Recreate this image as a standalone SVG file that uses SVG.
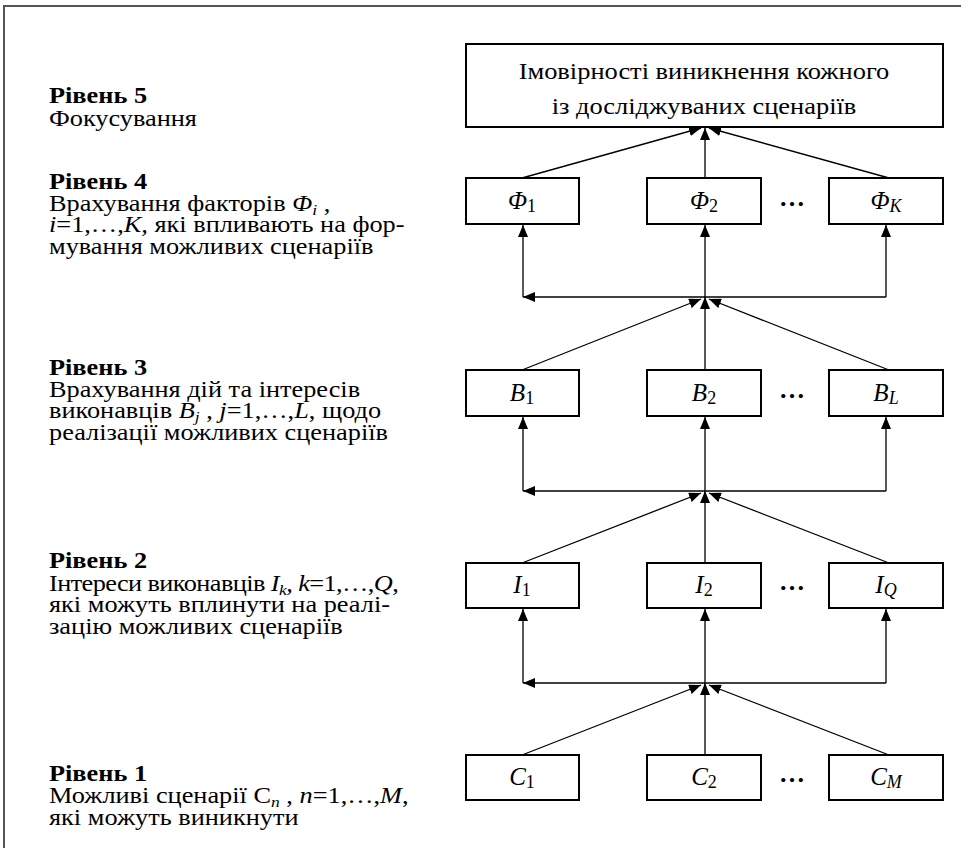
<svg xmlns="http://www.w3.org/2000/svg" width="961" height="848" viewBox="0 0 961 848">
<defs>
<style>
.frame{fill:none;stroke:#555;stroke-width:2}
.box{fill:#fff;stroke:#000;stroke-width:2}
.con{fill:none;stroke:#000;stroke-width:1.3}
.t{font-family:"Liberation Serif","Times New Roman",serif;font-size:22.5px;fill:#000}
.h{font-weight:bold}
.bt{font-family:"Liberation Serif","Times New Roman",serif;font-size:22.6px;fill:#000;text-anchor:middle}
.lbl{font-family:"Liberation Serif","Times New Roman",serif;font-size:25px;fill:#000;text-anchor:middle}
.i{font-style:italic}
.dots{font-family:"Liberation Serif","Times New Roman",serif;font-size:26px;font-weight:bold;fill:#000;text-anchor:middle}
</style>
<marker id="ah" markerWidth="12" markerHeight="10" refX="12" refY="5" orient="auto" markerUnits="userSpaceOnUse"><path d="M0,0 L12,5 L0,10 z" fill="#000"/></marker>
</defs>
<rect width="961" height="848" fill="#fff"/>
<path class="frame" d="M4,848 V6 H961"/>

<g id="levels" transform="matrix(1.17 0 0 1 -8.33 0)">
<text class="t h" x="49" y="103">Рівень 5</text>
<text class="t" x="49" y="126">Фокусування</text>
<text class="t h" x="49" y="189">Рівень 4</text>
<text class="t" x="49" y="211">Врахування факторів <tspan class="i">Φ</tspan><tspan class="i" font-size="15" dy="4">i</tspan><tspan dy="-4"> ,</tspan></text>
<text class="t" x="49" y="232"><tspan class="i">i</tspan>=1,…,<tspan class="i">K,</tspan> які впливають на фор-</text>
<text class="t" x="49" y="254">мування можливих сценаріїв</text>
<text class="t h" x="49" y="375">Рівень 3</text>
<text class="t" x="49" y="397">Врахування дій та інтересів</text>
<text class="t" x="49" y="418">виконавців <tspan class="i">B</tspan><tspan class="i" font-size="15" dy="4">j</tspan><tspan dy="-4"> , </tspan><tspan class="i">j</tspan>=1,…,<tspan class="i">L</tspan>, щодо</text>
<text class="t" x="49" y="440">реалізації можливих сценаріїв</text>
<text class="t h" x="49" y="568">Рівень 2</text>
<text class="t" x="49" y="591" letter-spacing="-0.5">Інтереси виконавців <tspan class="i">I</tspan><tspan class="i" font-size="15" dy="4">k</tspan><tspan class="i" dy="-4">, k</tspan>=1,…,<tspan class="i">Q</tspan>,</text>
<text class="t" x="49" y="612">які можуть вплинути на реалі-</text>
<text class="t" x="49" y="634">зацію можливих сценаріїв</text>
<text class="t h" x="49" y="781">Рівень 1</text>
<text class="t" x="49" y="803">Можливі сценарії C<tspan class="i" font-size="15" dy="4">n</tspan><tspan dy="-4"> , </tspan><tspan class="i">n</tspan>=1,…,<tspan class="i">M</tspan>,</text>
<text class="t" x="49" y="825">які можуть виникнути</text>
</g>

<g id="connectors">
<line class="con" x1="522" y1="178" x2="701" y2="128" marker-end="url(#ah)"/>
<line class="con" x1="705" y1="178" x2="705" y2="128" marker-end="url(#ah)"/>
<line class="con" x1="889" y1="178" x2="709" y2="128" marker-end="url(#ah)"/>

<path class="con" d="M886,297 H523" marker-end="url(#ah)"/>
<line class="con" x1="523" y1="297" x2="523" y2="225" marker-end="url(#ah)"/>
<line class="con" x1="705" y1="297" x2="705" y2="225" marker-end="url(#ah)"/>
<line class="con" x1="886" y1="297" x2="886" y2="225" marker-end="url(#ah)"/>
<line class="con" x1="522" y1="370" x2="701" y2="299" marker-end="url(#ah)"/>
<line class="con" x1="705" y1="370" x2="705" y2="297" marker-end="url(#ah)"/>
<line class="con" x1="889" y1="370" x2="709" y2="299" marker-end="url(#ah)"/>

<path class="con" d="M886,491 H523" marker-end="url(#ah)"/>
<line class="con" x1="523" y1="491" x2="523" y2="417" marker-end="url(#ah)"/>
<line class="con" x1="705" y1="491" x2="705" y2="417" marker-end="url(#ah)"/>
<line class="con" x1="886" y1="491" x2="886" y2="417" marker-end="url(#ah)"/>
<line class="con" x1="522" y1="563" x2="701" y2="493" marker-end="url(#ah)"/>
<line class="con" x1="705" y1="563" x2="705" y2="491" marker-end="url(#ah)"/>
<line class="con" x1="889" y1="563" x2="709" y2="493" marker-end="url(#ah)"/>

<path class="con" d="M886,683 H523" marker-end="url(#ah)"/>
<line class="con" x1="523" y1="683" x2="523" y2="609" marker-end="url(#ah)"/>
<line class="con" x1="705" y1="683" x2="705" y2="609" marker-end="url(#ah)"/>
<line class="con" x1="886" y1="683" x2="886" y2="609" marker-end="url(#ah)"/>
<line class="con" x1="522" y1="755" x2="701" y2="685" marker-end="url(#ah)"/>
<line class="con" x1="705" y1="755" x2="705" y2="683" marker-end="url(#ah)"/>
<line class="con" x1="889" y1="755" x2="709" y2="685" marker-end="url(#ah)"/>
</g>

<g id="top">
<rect class="box" x="466" y="44" width="477" height="83"/>
<g transform="matrix(1.17 0 0 1 -119.7 0)">
<text class="bt" x="704" y="79">Імовірності виникнення кожного</text>
<text class="bt" x="704" y="114">із досліджуваних сценаріїв</text>
</g>
</g>

<g id="phi1"><rect class="box" x="466" y="178" width="113" height="46"/><text class="lbl" x="522" y="209"><tspan class="i">Φ</tspan><tspan font-size="18" dy="3">1</tspan></text></g>
<g id="phi2"><rect class="box" x="647" y="178" width="114" height="46"/><text class="lbl" x="704" y="209"><tspan class="i">Φ</tspan><tspan font-size="18" dy="3">2</tspan></text></g>
<g id="phiK"><rect class="box" x="829" y="178" width="114" height="46"/><text class="lbl" x="886" y="209"><tspan class="i">Φ</tspan><tspan class="i" font-size="18" dy="3">K</tspan></text></g>
<text class="dots" x="792" y="206">…</text>

<g id="b1"><rect class="box" x="466" y="370" width="113" height="46"/><text class="lbl" x="522" y="401"><tspan class="i">B</tspan><tspan font-size="18" dy="3">1</tspan></text></g>
<g id="b2"><rect class="box" x="647" y="370" width="114" height="46"/><text class="lbl" x="704" y="401"><tspan class="i">B</tspan><tspan font-size="18" dy="3">2</tspan></text></g>
<g id="bL"><rect class="box" x="829" y="370" width="114" height="46"/><text class="lbl" x="886" y="401"><tspan class="i">B</tspan><tspan class="i" font-size="18" dy="3">L</tspan></text></g>
<text class="dots" x="792" y="398">…</text>

<g id="i1"><rect class="box" x="466" y="563" width="113" height="45"/><text class="lbl" x="522" y="593"><tspan class="i">I</tspan><tspan font-size="18" dy="3">1</tspan></text></g>
<g id="i2"><rect class="box" x="647" y="563" width="114" height="45"/><text class="lbl" x="704" y="593"><tspan class="i">I</tspan><tspan font-size="18" dy="3">2</tspan></text></g>
<g id="iQ"><rect class="box" x="829" y="563" width="114" height="45"/><text class="lbl" x="886" y="593"><tspan class="i">I</tspan><tspan class="i" font-size="18" dy="3">Q</tspan></text></g>
<text class="dots" x="792" y="590">…</text>

<g id="c1"><rect class="box" x="466" y="755" width="113" height="45"/><text class="lbl" x="522" y="785"><tspan class="i">C</tspan><tspan font-size="18" dy="3">1</tspan></text></g>
<g id="c2"><rect class="box" x="647" y="755" width="114" height="45"/><text class="lbl" x="704" y="785"><tspan class="i">C</tspan><tspan font-size="18" dy="3">2</tspan></text></g>
<g id="cM"><rect class="box" x="829" y="755" width="114" height="45"/><text class="lbl" x="886" y="785"><tspan class="i">C</tspan><tspan class="i" font-size="18" dy="3">M</tspan></text></g>
<text class="dots" x="792" y="782">…</text>
</svg>
